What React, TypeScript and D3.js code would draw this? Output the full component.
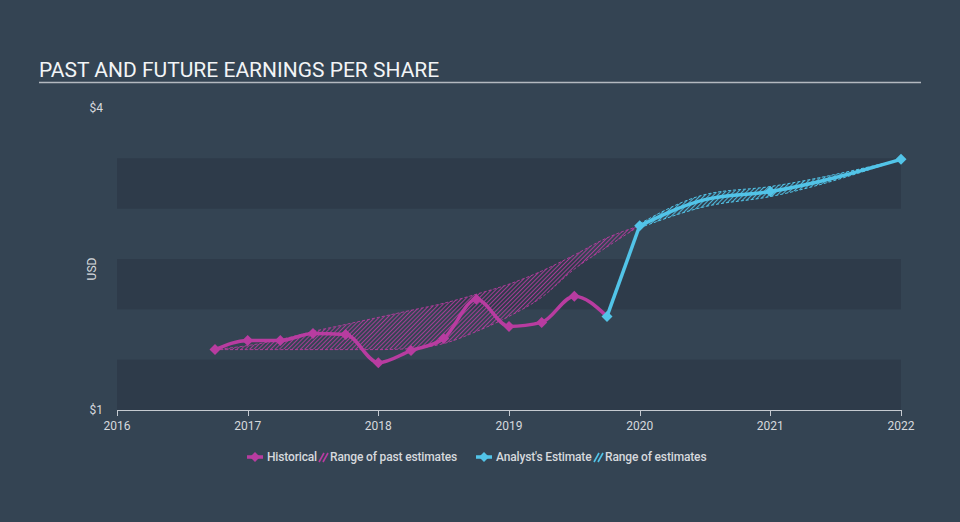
import React from "react";
import * as d3 from "d3";

// ---- data ----
const histDates = [2016.75, 2017.0, 2017.25, 2017.5, 2017.75, 2018.0, 2018.25, 2018.5, 2018.75, 2019.0, 2019.25, 2019.5, 2019.75];
const histEps = [1.6, 1.69, 1.69, 1.76, 1.75, 1.47, 1.59, 1.71, 2.1, 1.83, 1.87, 2.13, 1.93];

const pastRangeDates = [2016.75, 2017.0, 2017.25, 2017.5, 2017.75, 2018.0, 2018.25, 2018.5, 2018.75, 2019.0, 2019.25, 2019.5, 2019.75, 2020.0];
const pastRangeHigh = [1.6, 1.64, 1.7, 1.78, 1.85, 1.92, 1.99, 2.06, 2.15, 2.25, 2.38, 2.54, 2.71, 2.83];
const pastRangeLow = [1.6, 1.6, 1.6, 1.6, 1.6, 1.6, 1.61, 1.66, 1.78, 1.93, 2.12, 2.4, 2.62, 2.83];

const fcDates = [2020.0, 2020.5, 2021.0, 2022.0];
const fcEps = [2.83, 3.09, 3.17, 3.49];
const fcHigh = [2.85, 3.14, 3.22, 3.49];
const fcLow = [2.81, 3.02, 3.12, 3.49];
const fcMarkerDates = [2020.0, 2021.0, 2022.0];

const xTicks = [2016, 2017, 2018, 2019, 2020, 2021, 2022];
const yTickValues = [1, 4];
const bandStarts = [1.0, 2.0, 3.0];

const title = "PAST AND FUTURE EARNINGS PER SHARE";

// ---- style ----
const W = 960, H = 522;
const BG = "#344453";
const BAND = "#2e3b4a";
const MAG = "#b83ca0";
const CYAN = "#52c4e8";
const TXT = "#d6d9dd";
const FONT = "Roboto, 'Open Sans', sans-serif";

const x = d3.scaleLinear().domain([2016, 2022]).range([117, 901]);
const y = d3.scaleLinear().domain([1, 4]).range([410, 108]);

function Diamond({ cx, cy, r, color }: { cx: number; cy: number; r: number; color: string }) {
  return <path d={`M${cx},${cy - r}L${cx + r},${cy}L${cx},${cy + r}L${cx - r},${cy}Z`} fill={color} />;
}

function HatchIcon({ x0, color }: { x0: number; color: string }) {
  return (
    <g stroke={color} strokeWidth={1.6}>
      <line x1={x0} y1={462} x2={x0 + 5} y2={453} />
      <line x1={x0 + 4} y1={462} x2={x0 + 9} y2={453} />
    </g>
  );
}

export default function App() {
  const hist = histDates.map((d, i) => ({ d, v: histEps[i] }));
  const past = pastRangeDates.map((d, i) => ({ d, hi: pastRangeHigh[i], lo: pastRangeLow[i] }));
  const fc = fcDates.map((d, i) => ({ d, v: fcEps[i], hi: fcHigh[i], lo: fcLow[i] }));

  const line = d3.line<{ d: number; v: number }>().x(p => x(p.d)).y(p => y(p.v)).curve(d3.curveMonotoneX);
  const area = d3.area<{ d: number; hi: number; lo: number }>().x(p => x(p.d)).y0(p => y(p.lo)).y1(p => y(p.hi)).curve(d3.curveMonotoneX);
  const hiLine = d3.line<{ d: number; hi: number }>().x(p => x(p.d)).y(p => y(p.hi)).curve(d3.curveMonotoneX);
  const loLine = d3.line<{ d: number; lo: number }>().x(p => x(p.d)).y(p => y(p.lo)).curve(d3.curveMonotoneX);

  const last = hist[hist.length - 1];
  const connector = d3.line<{ d: number; v: number }>().x(p => x(p.d)).y(p => y(p.v))([last, fc[0]]);

  return (
    <div style={{ position: "fixed", left: 0, top: 0, width: W, height: H }}>
      <svg width={W} height={H} style={{ display: "block", fontFamily: FONT }}>
        <defs>
          <pattern id="hatchMag" patternUnits="userSpaceOnUse" width={3} height={3} patternTransform="rotate(45)">
            <line x1={0.5} y1={0} x2={0.5} y2={3} stroke={MAG} strokeWidth={1} strokeOpacity={0.85} />
          </pattern>
          <pattern id="hatchCyan" patternUnits="userSpaceOnUse" width={3} height={3} patternTransform="rotate(45)">
            <line x1={0.5} y1={0} x2={0.5} y2={3} stroke={CYAN} strokeWidth={1.2} strokeOpacity={0.9} />
          </pattern>
        </defs>
        <rect x={0} y={0} width={W} height={H} fill={BG} />

        {/* title */}
        <text x={39} y={77} fill="#f2f4f6" fontSize={21} fontFamily={FONT}>{title}</text>
        <line x1={39} x2={921} y1={82.5} y2={82.5} stroke="#b3b9c0" strokeWidth={1.5} />

        {/* bands */}
        {bandStarts.map(b => (
          <rect key={b} x={x(2016)} width={x(2022) - x(2016)} y={y(b + 0.5)} height={y(b) - y(b + 0.5)} fill={BAND} />
        ))}

        {/* y labels */}
        {yTickValues.map(v => (
          <text key={v} x={103} y={y(v) + 4} textAnchor="end" fill={TXT} fontSize={12}>{`$${v}`}</text>
        ))}
        <text transform={`translate(96,${(y(1) + y(4)) / 2 + 10}) rotate(-90)`} textAnchor="middle" fill={TXT} fontSize={12}>USD</text>

        {/* x axis */}
        <line x1={x(2016)} x2={x(2022)} y1={410.5} y2={410.5} stroke="#c5cad0" strokeWidth={1} />
        {xTicks.map(t => (
          <g key={t}>
            <line x1={Math.round(x(t)) + 0.5} x2={Math.round(x(t)) + 0.5} y1={410} y2={416} stroke="#c5cad0" strokeWidth={1} />
            <text x={x(t)} y={430} textAnchor="middle" fill={TXT} fontSize={12}>{t}</text>
          </g>
        ))}

        {/* past estimate range */}
        <path d={area(past) || ""} fill="url(#hatchMag)" />
        <path d={hiLine(past) || ""} fill="none" stroke={MAG} strokeWidth={1} strokeDasharray="3,2" strokeOpacity={0.9} />
        <path d={loLine(past) || ""} fill="none" stroke={MAG} strokeWidth={1} strokeDasharray="3,2" strokeOpacity={0.9} />

        {/* forecast range */}
        <path d={area(fc) || ""} fill="url(#hatchCyan)" />
        <path d={hiLine(fc) || ""} fill="none" stroke={CYAN} strokeWidth={1} strokeDasharray="3,2" />
        <path d={loLine(fc) || ""} fill="none" stroke={CYAN} strokeWidth={1} strokeDasharray="3,2" />

        {/* historical line */}
        <path d={line(hist) || ""} fill="none" stroke={MAG} strokeWidth={3.5} strokeLinejoin="round" />
        {hist.slice(0, -1).map(p => <Diamond key={p.d} cx={x(p.d)} cy={y(p.v)} r={5.5} color={MAG} />)}

        {/* forecast line */}
        <path d={connector || ""} fill="none" stroke={CYAN} strokeWidth={3.5} />
        <path d={line(fc) || ""} fill="none" stroke={CYAN} strokeWidth={3.5} strokeLinejoin="round" />
        <Diamond cx={x(last.d)} cy={y(last.v)} r={5.5} color={CYAN} />
        {fc.filter(p => fcMarkerDates.includes(p.d)).map(p => (
          <Diamond key={p.d} cx={x(p.d)} cy={y(p.v)} r={5.5} color={CYAN} />
        ))}

        {/* legend */}
        <g fontSize={12} fontWeight={500} fill={TXT}>
          <line x1={247} x2={263} y1={457} y2={457} stroke={MAG} strokeWidth={3.5} />
          <Diamond cx={255} cy={457} r={5} color={MAG} />
          <text x={267} y={461} letterSpacing={-0.15}>Historical</text>
          <HatchIcon x0={319} color={MAG} />
          <text x={330} y={461} letterSpacing={-0.15}>Range of past estimates</text>

          <line x1={476} x2={492} y1={457} y2={457} stroke={CYAN} strokeWidth={3.5} />
          <Diamond cx={484} cy={457} r={5} color={CYAN} />
          <text x={496} y={461} letterSpacing={-0.15}>Analyst's Estimate</text>
          <HatchIcon x0={594} color={CYAN} />
          <text x={605} y={461} letterSpacing={-0.15}>Range of estimates</text>
        </g>
      </svg>
    </div>
  );
}
